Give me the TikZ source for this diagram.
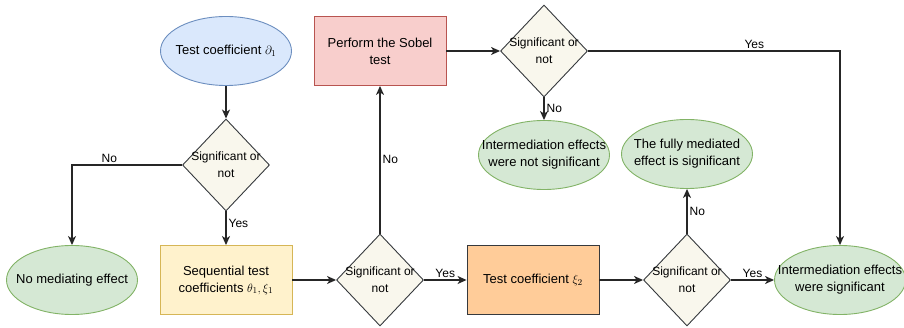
\documentclass[tikz,border=0pt]{standalone}
\usepackage{amsmath}
\usepackage{fontspec}
\setmainfont{Liberation Sans}
\usetikzlibrary{ % tikz packages
    positioning,shapes.geometric,
    arrows.meta
}
\definecolor{ovalblue}{HTML}{DAE8FC}
\definecolor{ovalblueline}{HTML}{6C8EBF}
\definecolor{ovalgreen}{HTML}{D5E8D4}
\definecolor{ovalgreenline}{HTML}{82B366}
\definecolor{boxyellow}{HTML}{FFF2CC}
\definecolor{boxyellowline}{HTML}{D6B656}
\definecolor{boxred}{HTML}{F8CECC}
\definecolor{boxredline}{HTML}{B85450}
\definecolor{boxorange}{HTML}{FFCC99}
\definecolor{decfill}{HTML}{F9F7ED}
\definecolor{darkline}{HTML}{36393D}
\tikzset{
    shapebase/.style={draw, line width=0.9pt, align=center,
        font=\fontsize{13}{17}\selectfont},
    oval/.style={shapebase, ellipse, minimum width=131pt,
        minimum height=69pt, inner sep=-20pt},
    procbox/.style={shapebase, rectangle, minimum width=132pt,
        minimum height=69pt},
    decision/.style={shapebase, diamond, minimum width=87pt,
        minimum height=92pt, inner sep=-12pt, fill=decfill,
        draw=darkline, font=\fontsize{12}{17}\selectfont},
    flow/.style={->, line width=1.2pt, draw=black!85},
    lbl/.style={font=\fontsize{12}{14}\selectfont, inner sep=2pt}
}
\tikzset{>={Stealth[length=9pt,width=8pt,inset=2.5pt]}}

\begin{document}
\begin{tikzpicture}[x=1pt,y=-1pt,node distance=100pt,on grid]
    \useasboundingbox (0,0) rectangle (904,328);

    \node[oval, fill=ovalblue, draw=ovalblueline] (coef1) at (226,51)
        {Test coefficient \(\partial_1\)};
    \node[decision] (dec1) [below=114pt of coef1] {Significant or\\not};
    \node[procbox, fill=boxyellow, draw=boxyellowline] (seq)
        [below=115pt of dec1] {Sequential test\\coefficients \(\theta_1,\xi_1\)};
    \node[oval, fill=ovalgreen, draw=ovalgreenline] (nomed)
        [left=154pt of seq] {No mediating effect};

    \node[decision] (dec2) [right=154pt of seq] {Significant or\\not};
    \node[procbox, fill=boxred, draw=boxredline] (sobel)
        [above=229pt of dec2] {Perform the Sobel\\test};
    \node[decision] (dec3) [right=164pt of sobel] {Significant or\\not};
    \node[oval, fill=ovalgreen, draw=ovalgreenline] (notsig)
        [below=104pt of dec3] {Intermediation effects\\were not significant};

    \node[procbox, fill=boxorange, draw=darkline] (coef2)
        [right=153pt of dec2] {Test coefficient \(\xi_2\)};
    \node[decision] (dec4) [right=154pt of coef2] {Significant or\\not};
    \node[oval, fill=ovalgreen, draw=ovalgreenline] (full)
        [above=126pt of dec4] {The fully mediated\\effect is significant};
    \node[oval, fill=ovalgreen, draw=ovalgreenline] (sig)
        [right=153pt of dec4] {Intermediation effects\\were significant};

    \draw[flow] (coef1) -- (dec1);
    \draw[flow] (dec1.west) -| node[lbl, pos=0.33, above] {No} (nomed.north);
    \draw[flow] (dec1) -- node[lbl, pos=0.35, right] {Yes} (seq);
    \draw[flow] (seq) -- (dec2);
    \draw[flow] (dec2) -- node[lbl, right] {No} (sobel);
    \draw[flow] (sobel) -- (dec3);
    \draw[flow] (dec3) -- node[lbl, right] {No} (notsig);
    \draw[flow] (dec3.east) -| node[lbl, pos=0.33, above] {Yes} (sig.north);
    \draw[flow] (dec2) -- node[lbl, above] {Yes} (coef2);
    \draw[flow] (coef2) -- (dec4);
    \draw[flow] (dec4) -- node[lbl, right] {No} (full);
    \draw[flow] (dec4) -- node[lbl, above] {Yes} (sig);
\end{tikzpicture}
\end{document}
